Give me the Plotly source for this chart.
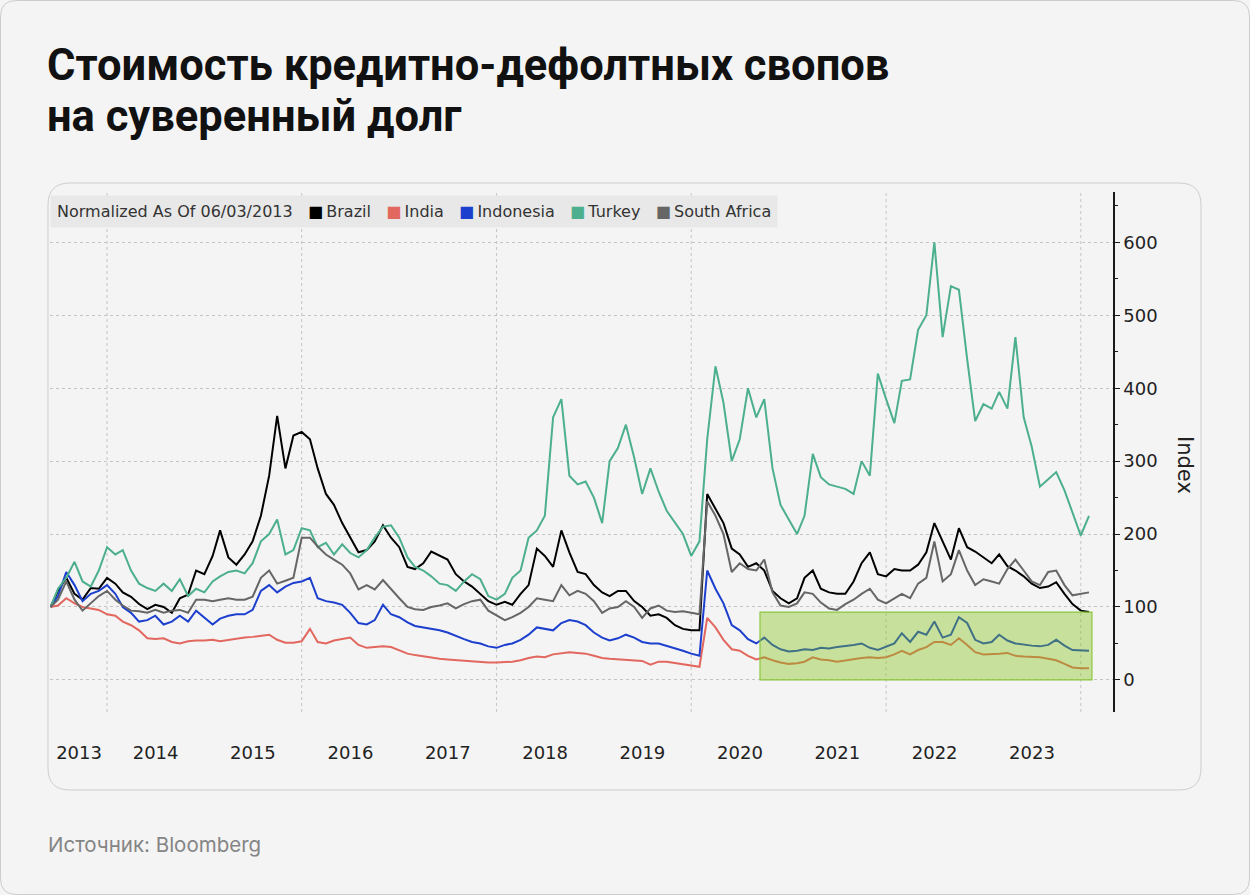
import pandas as pd
import plotly.graph_objects as go

# monthly readings, first point is the normalisation date 06/03/2013
dates = [pd.Timestamp("2013-06-03")] + list(pd.date_range("2013-07-01", "2024-02-01", freq="MS"))

brazil = [
    100, 122, 140, 118, 110, 126, 125, 140, 132, 120,
    114, 104, 97, 103, 100, 92, 112, 117, 150, 145,
    170, 205, 168, 158, 172, 190, 225, 280, 362, 290,
    335, 340, 330, 290, 255, 240, 215, 195, 175, 178,
    190, 212, 195, 182, 155, 152, 160, 176, 170, 165,
    145, 135, 128, 118, 108, 103, 107, 103, 118, 130,
    180, 170, 155, 205, 175, 148, 145, 130, 120, 115,
    122, 122, 108, 100, 88, 90, 85, 75, 70, 68,
    68, 255, 235, 215, 180, 172, 155, 160, 150, 122,
    112, 105, 112, 140, 150, 125, 120, 118, 118, 135,
    160, 175, 145, 142, 152, 150, 150, 158, 175, 215,
    190, 165, 208, 182, 176, 168, 160, 172, 156, 150,
    142, 132, 126, 128, 134, 118, 104, 95, 93,
]
india = [
    100, 102, 112, 105, 100, 98, 96, 90, 88, 80,
    75, 68, 57, 56, 57, 52, 50, 53, 54, 54,
    55, 53, 55, 57, 58, 59, 60, 62, 55, 51,
    51, 53, 70, 52, 50, 54, 56, 58, 48, 44,
    45, 46, 45, 40, 36, 34, 32, 30, 29, 28,
    27, 26, 25, 25, 24, 24, 24, 25, 27, 30,
    32, 31, 35, 37, 38, 37, 36, 33, 30, 29,
    28, 28, 27, 26, 21, 25, 25, 23, 21, 19,
    18, 85, 72, 55, 42, 40, 33, 28, 31, 27,
    24, 22, 23, 25, 31, 28, 27, 25, 27, 29,
    30, 31, 30, 31, 35, 40, 35, 41, 45, 52,
    52, 48, 57, 48, 38, 35, 35, 36, 37, 33,
    32, 32, 31, 29, 27, 22, 17, 16, 16,
]
indonesia = [
    100, 115, 148, 130, 108, 118, 122, 130, 118, 100,
    92, 80, 82, 88, 76, 80, 88, 80, 95, 86,
    76, 84, 88, 90, 90, 96, 122, 130, 120, 128,
    133, 135, 140, 112, 108, 106, 103, 92, 78, 76,
    82, 103, 90, 86, 79, 74, 72, 71, 68, 65,
    60, 56, 52, 50, 46, 44, 48, 50, 55, 62,
    72, 70, 68, 78, 82, 80, 75, 65, 58, 54,
    57, 62, 58, 52, 50, 50, 47, 44, 40, 36,
    33, 150, 125, 105, 75, 68, 56, 50, 58, 48,
    42, 39, 40, 42, 41, 44, 43, 45, 46, 48,
    50, 44, 41, 45, 50, 64, 52, 66, 62, 80,
    58, 62, 86, 78, 55, 50, 52, 62, 54, 50,
    48, 47, 46, 48, 55, 47, 41, 40, 40,
]
turkey = [
    100, 125, 140, 162, 135, 128, 150, 182, 172, 178,
    150, 132, 126, 122, 132, 122, 138, 115, 125, 120,
    135, 142, 148, 150, 146, 160, 190, 200, 220, 172,
    178, 208, 205, 182, 188, 172, 186, 174, 168, 178,
    195, 210, 212, 195, 168, 155, 150, 142, 132, 130,
    122, 135, 145, 138, 115, 110, 118, 140, 150, 195,
    205, 225, 360, 385, 280, 268, 272, 250, 215, 300,
    318, 350, 305, 255, 290, 258, 232, 215, 200, 170,
    190, 330, 430, 380, 300, 330, 400, 360, 385, 290,
    240, 220, 200, 225, 310, 278, 268, 265, 262, 255,
    300, 280, 420, 385, 352, 410, 412, 480, 500, 600,
    470, 540, 535, 440, 355, 378, 372, 395, 372, 470,
    360, 320, 265, 275, 285, 260, 230, 198, 225,
]
south_africa = [
    100, 110, 135, 110, 95, 105, 115, 122, 110, 102,
    95, 94, 92, 96, 92, 95, 96, 92, 110, 110,
    108, 110, 112, 110, 110, 114, 140, 150, 132, 136,
    140, 195, 195, 183, 172, 165, 158, 146, 124, 130,
    124, 137, 124, 112, 100, 97, 96, 100, 102, 105,
    98, 104, 108, 110, 95, 88, 82, 86, 92, 100,
    112, 110, 108, 130, 116, 122, 118, 108, 92, 98,
    100, 108, 100, 85, 98, 102, 95, 93, 94, 92,
    90, 245, 225, 200, 148, 160, 152, 150, 165, 120,
    102, 100, 105, 120, 118, 106, 98, 96, 104, 110,
    118, 125, 110, 105, 112, 118, 112, 132, 140, 190,
    135, 145, 178, 150, 130, 138, 135, 132, 152, 165,
    150, 135, 130, 148, 150, 130, 116, 118, 120,
]

names = ["Brazil", "India", "Indonesia", "Turkey", "South Africa"]
colors = ["#000000", "#e2685f", "#1c3fce", "#4caf8d", "#666666"]
series = [brazil, india, indonesia, turkey, south_africa]

year_labels = [str(y) for y in range(2013, 2024)]
label_dates = ["2013-09-18"] + [f"{y}-07-02" for y in range(2014, 2024)]
grid_years = [2014, 2016, 2018, 2020, 2022, 2024]
y_ticks = [0, 100, 200, 300, 400, 500, 600]

box_start, box_end, box_top = "2020-09-15", "2024-02-12", 93

# plot area in pixels, used to place the decorations around it
L, R, T, B = 50, 1113, 192, 712


def px(x):
    return (x - L) / (R - L)


def py(y):
    return (B - y) / (B - T)


def rounded(x0, y0, x1, y1, r):
    p = [
        f"M{px(x0 + r)},{py(y0)}", f"L{px(x1 - r)},{py(y0)}",
        f"Q{px(x1)},{py(y0)} {px(x1)},{py(y0 + r)}", f"L{px(x1)},{py(y1 - r)}",
        f"Q{px(x1)},{py(y1)} {px(x1 - r)},{py(y1)}", f"L{px(x0 + r)},{py(y1)}",
        f"Q{px(x0)},{py(y1)} {px(x0)},{py(y1 - r)}", f"L{px(x0)},{py(y0 + r)}",
        f"Q{px(x0)},{py(y0)} {px(x0 + r)},{py(y0)}", "Z",
    ]
    return " ".join(p)


fig = go.Figure()
for name, col, vals in zip(names, colors, series):
    fig.add_trace(go.Scatter(x=dates, y=vals, mode="lines", name=name,
                             line=dict(color=col, width=2)))

fig.update_layout(
    width=1250, height=895,
    margin=dict(l=L, r=1250 - R, t=T, b=895 - B),
    paper_bgcolor="#f4f4f4", plot_bgcolor="rgba(0,0,0,0)",
    showlegend=False,
    font=dict(family="DejaVu Sans", color="#222222"),
)
fig.update_xaxes(
    type="date", range=["2013-06-01", "2024-05-01"],
    showgrid=False, zeroline=False, showline=False,
    tickvals=label_dates, ticktext=year_labels,
    ticks="outside", ticklen=24, tickcolor="rgba(0,0,0,0)",
    tickfont=dict(size=18, color="#222222"),
)
fig.update_yaxes(
    side="right", range=[-44, 669], tickvals=y_ticks,
    showgrid=True, gridcolor="#c4c4c4", griddash="dot", gridwidth=1,
    zeroline=False, showline=True, linecolor="#1a1a1a", linewidth=1.5,
    ticks="outside", ticklen=5, tickcolor="#1a1a1a",
    minor=dict(tickvals=[50, 150, 250, 350, 450, 550, 650], ticks="outside",
               ticklen=3, tickcolor="#1a1a1a", showgrid=False),
    tickfont=dict(size=18, color="#222222"),
)

for yr in grid_years:
    fig.add_vline(x=f"{yr}-01-01", line=dict(color="#c4c4c4", width=1, dash="dot"), layer="below")

# highlighted region
fig.add_shape(type="rect", xref="x", yref="y", x0=box_start, x1=box_end, y0=0, y1=box_top,
              fillcolor="rgba(125,195,15,0.38)", line=dict(color="#8cc63e", width=1.2),
              layer="above")

# frames
fig.add_shape(type="path", xref="paper", yref="paper", path=rounded(0.5, 0.5, 1249.5, 894.5, 16),
              line=dict(color="#cccccc", width=1), layer="below")
fig.add_shape(type="path", xref="paper", yref="paper", path=rounded(48, 183, 1201, 790, 22),
              line=dict(color="#cdcdcd", width=1), layer="below")

legend_text = "Normalized As Of 06/03/2013" + "".join(
    f"\u00a0\u00a0\u00a0<span style='color:{c}'>■</span>\u2009{n}" for n, c in zip(names, colors))
fig.add_annotation(x=0, y=py(195), xref="paper", yref="paper", xanchor="left", yanchor="top",
                   text=legend_text, showarrow=False, bgcolor="#e8e8e8", borderpad=6,
                   font=dict(family="DejaVu Sans", size=16, color="#333333"))

fig.add_annotation(x=px(1199), y=py(465), xref="paper", yref="paper", text="Index",
                   textangle=90, showarrow=False, font=dict(family="DejaVu Sans", size=21, color="#222222"))

title_lines = ["Стоимость кредитно-дефолтных свопов", "на суверенный долг"]
for i, line in enumerate(title_lines):
    fig.add_annotation(x=px(45), y=py(66 + 50 * i), xref="paper", yref="paper",
                       xanchor="left", yanchor="middle", text=f"<b>{line}</b>", showarrow=False,
                       font=dict(family="Roboto", size=43.5, color="#111111"))

fig.add_annotation(x=px(46), y=py(844), xref="paper", yref="paper", xanchor="left",
                   yanchor="middle", text="Источник: Bloomberg", showarrow=False,
                   font=dict(family="Inter", size=20.5, color="#858585"))

fig.write_html("out.html", config={"displayModeBar": False},
               post_script="document.body.style.margin = '0';")
